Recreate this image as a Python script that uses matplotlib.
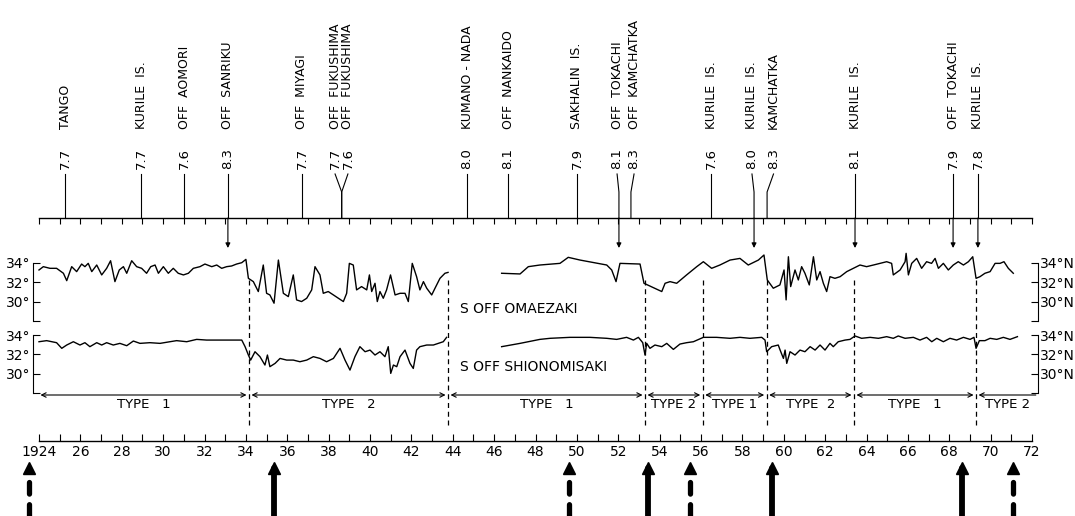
import numpy as np
import matplotlib
matplotlib.use('Agg')
import matplotlib.pyplot as plt

# great earthquakes (year of label, year where the line meets the axis)
ev_label_year = [1925.26, 1928.93, 1931.01, 1933.13, 1936.71, 1938.31, 1938.93, 1944.69, 1946.67,
                 1950.0, 1951.94, 1952.76, 1956.5, 1958.46, 1959.5, 1963.44, 1968.18, 1969.38]
ev_axis_year = [1925.26, 1928.93, 1931.01, 1933.13, 1936.71, 1938.63, 1938.63, 1944.69, 1946.67,
                1950.0, 1952.03, 1952.61, 1956.5, 1958.56, 1959.19, 1963.44, 1968.18, 1969.38]
ev_mag = [7.7, 7.7, 7.6, 8.3, 7.7, 7.7, 7.6, 8.0, 8.1, 7.9, 8.1, 8.3, 7.6, 8.0, 8.3, 8.1, 7.9, 7.8]
ev_name = ['TANGO', 'KURILE  IS.', 'OFF  AOMORI', 'OFF  SANRIKU', 'OFF  MIYAGI', 'OFF  FUKUSHIMA',
           'OFF  FUKUSHIMA', 'KUMANO - NADA', 'OFF  NANKAIDO', 'SAKHALIN  IS.', 'OFF  TOKACHI',
           'OFF  KAMCHATKA', 'KURILE  IS.', 'KURILE  IS.', 'KAMCHATKA', 'KURILE  IS.',
           'OFF  TOKACHI', 'KURILE  IS.']
ev_arrow = [False, False, False, True, False, False, False, False, False,
            False, True, False, False, True, False, True, True, True]

# latitude of the Kuroshio axis, S off Omaezaki
om_year_a = [1924.0, 1924.21, 1924.53, 1924.85, 1925.18, 1925.34, 1925.58, 1925.82, 1926.06, 1926.22,
             1926.38, 1926.55, 1926.79, 1927.03, 1927.27, 1927.46, 1927.67, 1927.88, 1928.08, 1928.24,
             1928.48, 1928.72, 1928.96, 1929.2, 1929.4, 1929.61, 1929.77, 1930.01, 1930.25, 1930.49,
             1930.73, 1930.98, 1931.22, 1931.46, 1931.78, 1932.02, 1932.35, 1932.59, 1932.83, 1933.07,
             1933.31, 1933.55, 1933.8, 1934.0, 1934.12, 1934.36, 1934.6, 1934.84, 1935.0, 1935.16,
             1935.36, 1935.57, 1935.81, 1936.05, 1936.29, 1936.45, 1936.69, 1936.94, 1937.18, 1937.34,
             1937.58, 1937.74, 1937.98, 1938.23, 1938.47, 1938.71, 1938.87, 1939.0, 1939.19, 1939.35,
             1939.59, 1939.84, 1939.97, 1940.08, 1940.24, 1940.35, 1940.48, 1940.64, 1940.8, 1940.99,
             1941.21, 1941.45, 1941.69, 1941.85, 1942.04, 1942.25, 1942.41, 1942.58, 1942.74, 1942.98,
             1943.14, 1943.38, 1943.62, 1943.77]
om_lat_a = [33.25, 33.59, 33.42, 33.42, 32.91, 32.15, 33.59, 33.08, 33.86, 33.59,
            33.93, 33.08, 33.76, 32.74, 33.42, 34.2, 32.05, 33.25, 33.59, 32.91,
            34.2, 33.59, 33.42, 32.91, 33.59, 33.76, 32.91, 33.59, 32.91, 33.42,
            32.91, 32.74, 32.91, 33.42, 33.59, 33.86, 33.59, 33.76, 33.42, 33.59,
            33.66, 33.86, 34.0, 34.34, 32.39, 32.05, 31.03, 33.76, 30.85, 30.68,
            29.83, 34.27, 30.85, 30.51, 32.74, 30.17, 30.0, 30.34, 31.2, 33.59,
            32.74, 30.85, 31.03, 30.68, 30.34, 30.0, 30.85, 33.93, 33.76, 31.2,
            31.54, 31.2, 32.74, 31.03, 31.88, 30.0, 31.03, 30.34, 31.2, 32.74,
            30.68, 30.85, 30.85, 30.0, 33.93, 32.56, 31.2, 32.05, 31.37, 30.68,
            31.37, 32.39, 32.91, 33.0]
om_year_b = [1946.36, 1947.25, 1947.65, 1948.21, 1949.18, 1949.58, 1950.15, 1951.44, 1951.68, 1951.89,
             1952.08, 1953.05, 1953.24, 1954.1, 1954.26, 1954.5, 1954.82, 1955.3, 1955.79, 1956.11,
             1956.51, 1956.91, 1957.4, 1957.88, 1958.28, 1958.77, 1959.04, 1959.2, 1959.49, 1959.81,
             1960.01, 1960.11, 1960.22, 1960.33, 1960.54, 1960.7, 1960.86, 1961.02, 1961.23, 1961.43,
             1961.59, 1961.75, 1961.91, 1962.07, 1962.23, 1962.47, 1962.72, 1963.04, 1963.36, 1963.68,
             1964.0, 1964.33, 1964.65, 1964.97, 1965.21, 1965.29, 1965.62, 1965.86, 1965.91, 1966.02,
             1966.18, 1966.42, 1966.66, 1966.9, 1967.14, 1967.31, 1967.47, 1967.71, 1967.95, 1968.19,
             1968.43, 1968.68, 1968.92, 1969.13, 1969.29, 1969.48, 1969.72, 1969.97, 1970.21, 1970.45,
             1970.64, 1970.85, 1971.09]
om_lat_b = [32.91, 32.84, 33.59, 33.76, 33.93, 34.55, 34.27, 33.76, 33.25, 32.05,
            33.93, 33.86, 31.88, 31.03, 31.88, 32.05, 31.88, 32.74, 33.59, 34.1,
            33.42, 33.76, 34.27, 34.44, 33.76, 34.27, 34.79, 32.22, 31.37, 31.71,
            33.25, 30.17, 34.61, 31.54, 33.25, 32.22, 33.59, 32.91, 31.71, 34.61,
            32.22, 33.08, 31.88, 31.03, 32.56, 32.39, 32.56, 33.08, 33.42, 33.76,
            33.59, 33.76, 33.93, 34.1, 33.93, 32.74, 33.25, 34.1, 34.96, 32.74,
            33.93, 34.44, 33.42, 34.1, 33.93, 34.44, 33.42, 33.93, 33.25, 33.76,
            34.1, 33.76, 34.1, 34.61, 32.39, 32.56, 32.91, 33.08, 33.93, 33.93,
            34.1, 33.42, 32.91]

# S off Shionomisaki
sh_year_a = [1924.0, 1924.37, 1924.85, 1925.1, 1925.34, 1925.66, 1925.98, 1926.22, 1926.46, 1926.79,
             1927.03, 1927.27, 1927.59, 1927.91, 1928.24, 1928.56, 1928.88, 1929.36, 1929.85, 1930.33,
             1930.65, 1931.14, 1931.62, 1932.1, 1932.59, 1933.23, 1933.8, 1933.96, 1934.12, 1934.23,
             1934.44, 1934.68, 1934.92, 1935.04, 1935.16, 1935.41, 1935.65, 1935.97, 1936.29, 1936.61,
             1936.94, 1937.26, 1937.58, 1937.9, 1938.23, 1938.55, 1938.79, 1939.03, 1939.27, 1939.51,
             1939.76, 1940.0, 1940.24, 1940.48, 1940.72, 1940.88, 1941.0, 1941.13, 1941.29, 1941.45,
             1941.69, 1941.93, 1942.09, 1942.25, 1942.41, 1942.74, 1943.06, 1943.3, 1943.54, 1943.7]
sh_lat_a = [33.31, 33.42, 33.21, 32.63, 32.97, 33.31, 32.97, 33.21, 32.8, 33.21,
            32.97, 33.21, 32.97, 33.14, 32.9, 33.38, 33.14, 33.21, 33.14, 33.31,
            33.42, 33.31, 33.55, 33.48, 33.48, 33.48, 33.48, 32.8, 31.94, 31.42,
            32.28, 31.77, 30.91, 31.94, 30.74, 31.08, 31.59, 31.42, 31.42, 31.25,
            31.42, 31.77, 31.59, 31.25, 31.59, 32.63, 31.42, 30.39, 31.77, 32.8,
            32.28, 32.45, 31.94, 32.28, 31.77, 32.8, 30.05, 30.91, 30.74, 31.77,
            32.45, 31.08, 30.56, 32.45, 32.8, 32.97, 32.97, 33.14, 33.31, 33.76]
sh_year_b = [1946.36, 1947.25, 1948.21, 1948.7, 1949.66, 1950.63, 1951.44, 1951.92, 1952.4, 1952.73,
             1952.97, 1953.18, 1953.29, 1953.37, 1953.53, 1953.77, 1954.1, 1954.34, 1954.66, 1954.98,
             1955.3, 1955.63, 1956.11, 1956.75, 1957.4, 1957.88, 1958.36, 1958.93, 1959.09, 1959.17,
             1959.41, 1959.73, 1959.82, 1959.98, 1960.06, 1960.14, 1960.3, 1960.54, 1960.78, 1961.02,
             1961.27, 1961.51, 1961.75, 1961.99, 1962.23, 1962.39, 1962.63, 1962.96, 1963.2, 1963.44,
             1963.76, 1964.17, 1964.57, 1964.97, 1965.29, 1965.53, 1965.86, 1966.26, 1966.58, 1966.9,
             1967.15, 1967.39, 1967.71, 1968.03, 1968.35, 1968.68, 1969.0, 1969.19, 1969.29, 1969.45,
             1969.72, 1969.97, 1970.29, 1970.61, 1970.93, 1971.29]
sh_lat_b = [32.8, 33.14, 33.55, 33.66, 33.76, 33.76, 33.66, 33.55, 33.76, 33.48,
            33.76, 33.21, 31.94, 33.14, 32.63, 32.97, 32.8, 33.14, 32.52, 33.07,
            33.21, 33.31, 33.76, 33.76, 33.66, 33.76, 33.66, 33.76, 33.48, 32.28,
            32.8, 32.97, 32.45, 31.59, 32.45, 31.08, 32.28, 31.94, 32.45, 32.28,
            32.8, 32.45, 32.97, 32.45, 33.14, 32.8, 33.31, 33.48, 33.55, 33.9,
            33.66, 33.76, 33.66, 33.83, 33.66, 33.9, 33.66, 33.76, 33.48, 33.76,
            33.31, 33.66, 33.31, 33.66, 33.48, 33.76, 33.55, 33.76, 32.63, 33.42,
            33.42, 33.66, 33.55, 33.76, 33.55, 33.83]

# path types
type_edges = [1923.95, 1934.15, 1943.77, 1953.29, 1956.08, 1959.17, 1963.39, 1969.29, 1972.3]
type_names = ['TYPE   1', 'TYPE   2', 'TYPE   1', 'TYPE 2', 'TYPE 1', 'TYPE  2', 'TYPE   1', 'TYPE 2']

# arrows under the time axis
big_arrow_year = [1923.5, 1935.35, 1949.63, 1953.44, 1955.46, 1959.44, 1968.61, 1971.08]
big_arrow_dashed = [True, False, True, False, True, False, False, True]

year_ticks = list(range(1924, 1973))
year_labels = ['1924' if y == 1924 else (str(y)[2:] if y % 2 == 0 else '') for y in year_ticks]

# ---- layout: one common year scale in pixels ----
W, H = 1075, 516
px_per_year = 20.69
x0 = 1924 - 39 / px_per_year
x1 = x0 + W / px_per_year

fig = plt.figure(figsize=(W / 100, H / 100), dpi=100)
fig.patch.set_facecolor('white')


def overlay():
    a = fig.add_axes([0, 0, 1, 1], facecolor='none')
    a.set_xlim(x0, x1)
    a.set_ylim(H, 0)
    for s in ['left', 'right', 'top']:
        a.spines[s].set_visible(False)
    a.set_yticks([])
    return a


# top time axis with earthquakes
ax_top = overlay()
ax_top.spines['bottom'].set_position(('data', 218))
ax_top.spines['bottom'].set_bounds(1924, 1972)
ax_top.spines['bottom'].set_linewidth(1.0)
ax_top.set_xticks(year_ticks)
ax_top.set_xticklabels([])
ax_top.tick_params(axis='x', direction='out', length=4, width=0.8)

for i in range(len(ev_mag)):
    ax_top.plot([ev_label_year[i], ev_axis_year[i], ev_axis_year[i]], [174, 192, 218],
                color='k', lw=0.8)
    ax_top.text(ev_label_year[i], 169, '%.1f' % ev_mag[i], rotation=90, ha='center', va='bottom',
                fontsize=9.5, color='k')
    ax_top.text(ev_label_year[i], 129, ev_name[i], rotation=90, ha='center', va='bottom',
                fontsize=9, color='k')
    if ev_arrow[i]:
        ax_top.annotate('', xy=(ev_axis_year[i], 248), xytext=(ev_axis_year[i], 218),
                        arrowprops=dict(arrowstyle='-|>', lw=0.8, color='k', mutation_scale=7,
                                        shrinkA=0, shrinkB=0))


def lat_panel(top_px, bottom_px, ymax):
    a = fig.add_axes([0, 1 - bottom_px / H, 1, (bottom_px - top_px) / H], facecolor='none')
    a.set_xlim(x0, x1)
    a.set_ylim(28, ymax)
    for s in ['right', 'top', 'bottom']:
        a.spines[s].set_visible(False)
    a.spines['left'].set_position(('data', 1923.71))
    a.spines['left'].set_bounds(28, 34)
    a.set_xticks([])
    a.set_yticks([28, 30, 32, 34])
    a.set_yticklabels(['', '30°', '32°', '34°'])
    a.tick_params(axis='y', direction='in', length=5, width=0.8, pad=1.5, labelsize=10)
    r = a.twinx()
    r.set_ylim(28, ymax)
    for s in ['left', 'top', 'bottom']:
        r.spines[s].set_visible(False)
    r.spines['right'].set_position(('data', 1972.28))
    r.spines['right'].set_bounds(28, 34)
    r.set_yticks([28, 30, 32, 34])
    r.set_yticklabels(['', '30°N', '32°N', '34°N'])
    r.tick_params(axis='y', direction='in', length=5, width=0.8, pad=1.5, labelsize=10)
    return a


ax_om = lat_panel(248.1, 321.0, 35.5)
ax_om.plot(om_year_a, om_lat_a, color='k', lw=1.0, clip_on=False)
ax_om.plot(om_year_b, om_lat_b, color='k', lw=1.0, clip_on=False)
ax_om.text(1944.35, 29.25, 'S OFF OMAEZAKI', fontsize=10, ha='left', va='center')

ax_sh = lat_panel(325.3, 393.3, 35.0)
ax_sh.plot(sh_year_a, sh_lat_a, color='k', lw=1.0, clip_on=False)
ax_sh.plot(sh_year_b, sh_lat_b, color='k', lw=1.0, clip_on=False)
ax_sh.text(1944.35, 30.7, 'S OFF SHIONOMISAKI', fontsize=10, ha='left', va='center')

# bottom time axis, type arrows, dashed boundaries, big arrows
ax_bot = overlay()
ax_bot.spines['bottom'].set_position(('data', 441))
ax_bot.spines['bottom'].set_bounds(1924, 1972)
ax_bot.spines['bottom'].set_linewidth(1.0)
ax_bot.set_xticks(year_ticks)
ax_bot.set_xticklabels(year_labels)
ax_bot.tick_params(axis='x', direction='in', length=5, width=0.8, pad=3, labelsize=10)

ax_bot.vlines(type_edges[1:-1], 280, 427, colors='k', lw=0.9, linestyles=(0, (4, 3)))

gap = 0.12
for k in range(len(type_names)):
    a, b = type_edges[k] + gap, type_edges[k + 1] - gap
    style = '<->' if k < len(type_names) - 1 else '<-'
    ax_bot.annotate('', xy=(b, 395), xytext=(a, 395),
                    arrowprops=dict(arrowstyle=style, lw=0.8, color='k', mutation_scale=8,
                                    shrinkA=0, shrinkB=0))
    ax_bot.text((a + b) / 2, 405, type_names[k], fontsize=9.5, ha='center', va='center')

for yr, dashed in zip(big_arrow_year, big_arrow_dashed):
    if dashed:
        ax_bot.plot([yr, yr], [482, 520], color='k', lw=3.8, linestyle=(0, (2.2, 2.0)),
                    dash_capstyle='round', clip_on=False)
    else:
        ax_bot.plot([yr, yr], [468, 516], color='k', lw=4.2, solid_capstyle='round')
    ax_bot.plot([yr], [468], marker='^', markersize=9, color='k')

fig.savefig('out.png', dpi=100, facecolor='white')
